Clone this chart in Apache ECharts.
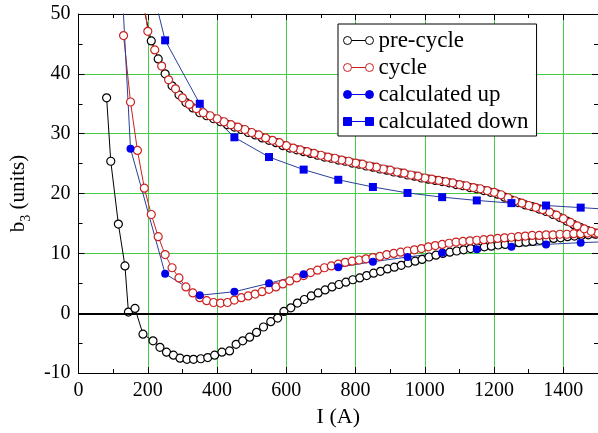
<!DOCTYPE html>
<html>
<head>
<meta charset="utf-8">
<script src="https://cdn.jsdelivr.net/npm/echarts@6/dist/echarts.min.js"></script>
<style>html,body{margin:0;padding:0;background:#fff;}#c{width:598px;height:433px;}</style>
</head>
<body>
<div id="c"></div>
<script>
// ---- data ----
const preCycleUpX = [81,93,115,134,144,163,186,215,235,254,274,293,313,332,353,373,393,414,436,455,474,494,514,534,555,575,593,613,632,652,672,692,712,732,752,772,792,812,832,852,872,892,912,932,952,972,992,1012,1032,1052,1072,1092,1112,1132,1152,1172,1192,1212,1232,1252,1272,1292,1312,1332,1352,1372,1392,1412,1432,1452,1472,1492];
const preCycleUpY = [36.0,25.4,14.9,7.9,0.2,0.8,-3.5,-4.6,-5.7,-6.5,-7.0,-7.5,-7.7,-7.7,-7.6,-7.4,-7.0,-6.5,-6.3,-5.2,-4.6,-4.0,-3.2,-2.3,-1.4,-0.8,0.3,0.9,1.7,2.3,2.9,3.4,3.9,4.4,4.8,5.2,5.6,5.9,6.3,6.7,7.0,7.4,7.7,8.0,8.4,8.7,9.0,9.4,9.7,10.0,10.2,10.4,10.6,10.8,10.9,11.1,11.2,11.4,11.5,11.7,11.8,11.9,12.0,12.2,12.3,12.5,12.6,12.8,12.9,13.0,13.1,13.2];
const preCycleDownX = [1490,1470,1450,1430,1410,1390,1370,1350,1330,1310,1290,1270,1250,1230,1210,1190,1170,1150,1130,1110,1090,1070,1050,1030,1010,990,970,950,930,910,890,870,850,830,810,790,770,750,730,710,690,670,650,630,610,590,570,550,530,510,490,470,450,430,410,390,370,350,330,310,290,270,250,230,210,190,170];
const preCycleDownY = [13.4,13.8,14.3,14.8,15.4,16.0,16.5,17.0,17.4,17.8,18.1,18.5,18.9,19.4,19.9,20.2,20.5,20.8,21.0,21.3,21.5,21.8,22.0,22.2,22.4,22.6,22.9,23.1,23.4,23.6,23.9,24.1,24.4,24.6,24.9,25.1,25.4,25.6,25.9,26.1,26.4,26.7,27.0,27.3,27.6,28.0,28.5,28.9,29.3,29.8,30.2,30.7,31.1,31.5,32.0,32.5,33.0,33.5,34.3,35.2,36.5,38.0,40.0,42.5,45.5,50.5,62.0];

const cycleUpX = [130,150,170,190,210,230,250,270,290,310,330,350,370,390,410,430,450,470,490,510,530,550,570,590,610,630,650,670,690,710,730,750,770,790,810,830,850,870,890,910,930,950,970,990,1010,1030,1050,1070,1090,1110,1130,1150,1170,1190,1210,1230,1250,1270,1290,1310,1330,1350,1370,1390,1410,1430,1450,1470,1490];
const cycleUpY = [46.4,35.3,27.2,20.9,16.5,12.8,9.8,7.6,5.9,4.4,3.4,2.6,2.1,1.8,1.7,1.8,2.2,2.6,2.9,3.2,3.6,4.0,4.4,4.9,5.4,5.9,6.3,6.8,7.2,7.6,7.9,8.2,8.5,8.7,8.9,9.1,9.3,9.5,9.8,10.0,10.2,10.4,10.6,10.8,11.1,11.3,11.5,11.7,11.9,12.0,12.1,12.2,12.3,12.4,12.5,12.6,12.7,12.8,12.9,13.0,13.0,13.1,13.1,13.2,13.2,13.3,13.3,13.4,13.4];
const cycleDownX = [1500,1480,1460,1440,1420,1400,1380,1360,1340,1320,1300,1280,1260,1240,1220,1200,1180,1160,1140,1120,1100,1080,1060,1040,1020,1000,980,960,940,920,900,880,860,840,820,800,780,760,740,720,700,680,660,640,620,600,580,560,540,520,500,480,460,440,420,400,380,360,340,320,300,280,260,240,220,200,180];
const cycleDownY = [13.4,13.7,14.1,14.6,15.2,15.8,16.4,16.9,17.3,17.7,18.0,18.4,18.8,19.3,19.8,20.2,20.5,20.8,21.0,21.3,21.5,21.8,22.0,22.2,22.4,22.6,22.9,23.1,23.4,23.6,23.9,24.1,24.4,24.6,24.9,25.1,25.4,25.6,25.9,26.1,26.4,26.7,27.0,27.3,27.6,28.0,28.5,28.9,29.3,29.8,30.2,30.7,31.1,31.5,32.0,32.5,33.0,33.5,34.2,34.9,36.0,37.5,39.0,41.3,44.0,47.1,56.0];

const calcUpX = [50,150,250,350,450,550,650,750,850,950,1050,1150,1250,1350,1450,1550];
const calcUpY = [138,27.5,6.6,3.0,3.6,5.0,6.5,7.7,8.6,9.4,10.1,10.7,11.1,11.5,11.8,12.0];
const calcDownX = [150,250,350,450,550,650,750,850,950,1050,1150,1250,1350,1450,1550];
const calcDownY = [69,45.6,35.0,29.4,26.1,24.0,22.3,21.1,20.1,19.4,18.85,18.4,18.0,17.65,17.3];

const seriesNames = ['pre-cycle','cycle','calculated up','calculated down'];
const xTicks = {min: 0, max: 1500, interval: 200};
const yTicks = {min: -10, max: 50, interval: 10};

// ---- build ----
const zip = (xs, ys) => xs.map((x, i) => [x, ys[i]]);
const serif = 'Liberation Serif';
const gridGreen = '#44cc44';
const redC = '#cc2020';
const blueC = '#0000ee';
const blueLine = '#2a3f9a';
const plain = v => String(v);

const circleIcon = 'path://M0,4a4,4 0 1,0 8,0a4,4 0 1,0 -8,0M8,4L22,4M22,4a4,4 0 1,0 8,0a4,4 0 1,0 -8,0';
const squareIcon = 'path://M0,0L8,0L8,8L0,8ZM8,4L22,4M22,0L30,0L30,8L22,8Z';

const baseAxis = {
  axisLine: {show: true, onZero: false, lineStyle: {color: '#000', width: 1}},
  axisTick: {show: true, inside: true, length: 6, lineStyle: {color: '#000'}},
  minorTick: {show: true, splitNumber: 2, length: 4, lineStyle: {color: '#000'}},
};

const chart = echarts.init(document.getElementById('c'), null, {renderer: 'canvas'});
chart.setOption({
  animation: false,
  backgroundColor: '#fff',
  grid: {left: 76, top: 14, right: -2, bottom: 52, containLabel: false},
  legend: {
    left: 338, top: 24, orient: 'vertical',
    backgroundColor: '#fff', borderColor: '#000', borderWidth: 1,
    padding: [5, 8, 3, 5], itemGap: 4, itemWidth: 30, itemHeight: 8,
    selectedMode: false,
    textStyle: {fontFamily: serif, fontSize: 23, color: '#000'},
    data: [
      {name: seriesNames[0], icon: circleIcon, itemStyle: {color: '#fff', borderColor: '#000', borderWidth: 1}},
      {name: seriesNames[1], icon: circleIcon, itemStyle: {color: '#fff', borderColor: redC, borderWidth: 1}},
      {name: seriesNames[2], icon: circleIcon, itemStyle: {color: blueC, borderColor: blueC, borderWidth: 1}},
      {name: seriesNames[3], icon: squareIcon, itemStyle: {color: blueC, borderColor: blueC, borderWidth: 1}}
    ]
  },
  xAxis: [
    Object.assign({}, baseAxis, {
      type: 'value', position: 'bottom', min: xTicks.min, max: xTicks.max, interval: xTicks.interval,
      name: 'I (A)', nameLocation: 'middle', nameGap: 28,
      nameTextStyle: {fontFamily: serif, fontSize: 22, color: '#000'},
      axisLabel: {fontFamily: serif, fontSize: 20, color: '#000', margin: 8, showMaxLabel: false, formatter: plain},
      splitLine: {show: true, lineStyle: {color: gridGreen, width: 1}}
    }),
    Object.assign({}, baseAxis, {
      type: 'value', position: 'top', min: xTicks.min, max: xTicks.max, interval: xTicks.interval,
      axisLabel: {show: false}, splitLine: {show: false}
    })
  ],
  yAxis: [
    Object.assign({}, baseAxis, {
      type: 'value', position: 'left', min: yTicks.min, max: yTicks.max, interval: yTicks.interval,
      name: '{m|b}{s|3}{m| (units)}', nameLocation: 'middle', nameGap: 38,
      nameTextStyle: {
        fontFamily: serif, fontSize: 21, color: '#000',
        rich: {
          m: {fontFamily: serif, fontSize: 21, color: '#000', verticalAlign: 'bottom', padding: [0, 0, 4, 0]},
          s: {fontFamily: serif, fontSize: 14, color: '#000', verticalAlign: 'bottom'}
        }
      },
      axisLabel: {fontFamily: serif, fontSize: 20, color: '#000', margin: 8, formatter: plain},
      splitLine: {show: true, lineStyle: {color: gridGreen, width: 1.2}}
    }),
    Object.assign({}, baseAxis, {
      type: 'value', position: 'right', min: yTicks.min, max: yTicks.max, interval: yTicks.interval,
      axisLabel: {show: false}, splitLine: {show: false}
    })
  ],
  series: [
    {
      name: seriesNames[0], type: 'line', xAxisIndex: 0, yAxisIndex: 0,
      data: zip(preCycleUpX, preCycleUpY).concat(zip(preCycleDownX, preCycleDownY)),
      symbol: 'circle', symbolSize: 8,
      itemStyle: {color: '#fff', borderColor: '#000', borderWidth: 1.2},
      lineStyle: {color: '#000', width: 1},
      emphasis: {disabled: true},
      markLine: {
        silent: true, symbol: ['none', 'none'], label: {show: false},
        lineStyle: {color: '#000', width: 2, type: 'solid'},
        data: [{yAxis: 0}]
      }
    },
    {
      name: seriesNames[1], type: 'line',
      data: zip(cycleUpX, cycleUpY).concat(zip(cycleDownX, cycleDownY)),
      symbol: 'circle', symbolSize: 8,
      itemStyle: {color: '#fff', borderColor: redC, borderWidth: 1.2},
      lineStyle: {color: redC, width: 1},
      emphasis: {disabled: true}
    },
    {
      name: seriesNames[2], type: 'line',
      data: zip(calcUpX, calcUpY),
      symbol: 'circle', symbolSize: 8,
      itemStyle: {color: blueC, borderColor: blueC, borderWidth: 0},
      lineStyle: {color: blueLine, width: 1},
      emphasis: {disabled: true}
    },
    {
      name: seriesNames[3], type: 'line',
      data: zip(calcDownX, calcDownY),
      symbol: 'rect', symbolSize: 8,
      itemStyle: {color: blueC, borderColor: blueC, borderWidth: 0},
      lineStyle: {color: blueLine, width: 1},
      emphasis: {disabled: true}
    }
  ]
});
</script>
</body>
</html>
